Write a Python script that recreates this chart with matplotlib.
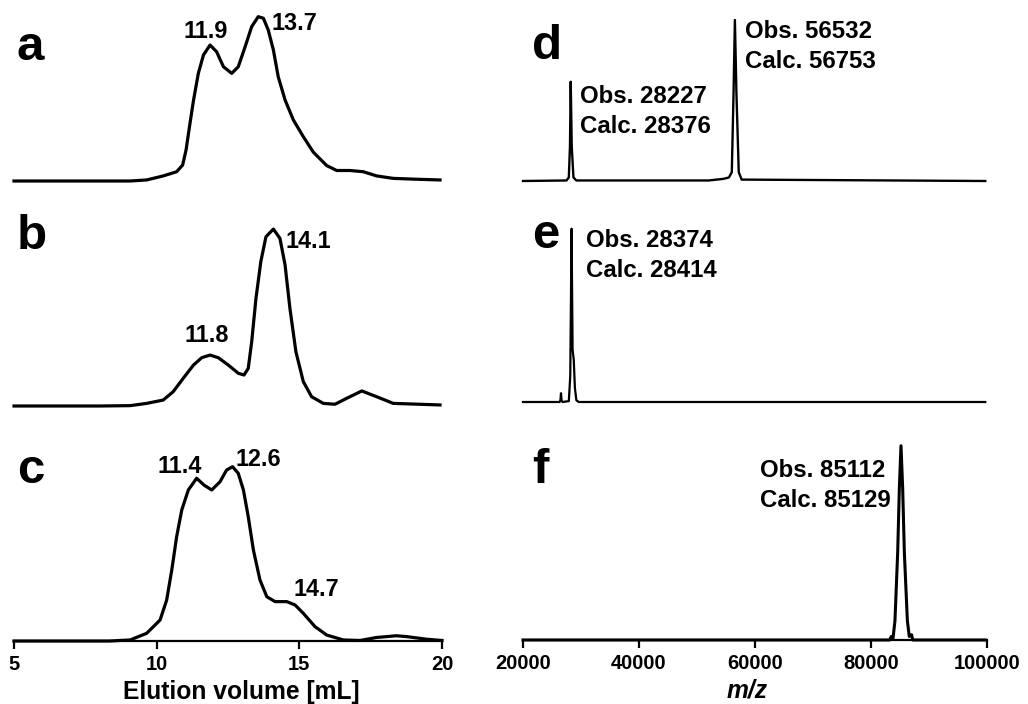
import matplotlib
matplotlib.use("Agg")
import matplotlib.pyplot as plt

plt.rcParams['font.family'] = ['Liberation Sans', 'DejaVu Sans']
plt.rcParams['font.weight'] = 'bold'

# SEC traces (elution volume in mL, relative absorbance)
a_vol = [5, 9.07, 9.65, 10.23, 10.70, 10.91, 11.03, 11.15, 11.29, 11.46, 11.64, 11.87,
         12.10, 12.34, 12.63, 12.86, 13.10, 13.33, 13.56, 13.74, 13.91, 14.09, 14.26,
         14.50, 14.79, 15.14, 15.49, 15.96, 16.31, 16.78, 17.24, 17.71, 18.29, 19.11, 19.93]
a_abs = [0, 0, 0.006, 0.029, 0.053, 0.091, 0.177, 0.31, 0.46, 0.615, 0.72, 0.777,
         0.739, 0.653, 0.615, 0.653, 0.767, 0.882, 0.939, 0.93, 0.863, 0.749, 0.596,
         0.463, 0.349, 0.253, 0.165, 0.088, 0.06, 0.06, 0.053, 0.029, 0.015, 0.01, 0.006]

b_vol = [5, 8.0, 9.07, 9.65, 10.23, 10.58, 10.93, 11.29, 11.58, 11.87, 12.16, 12.51,
         12.86, 13.06, 13.21, 13.33, 13.48, 13.65, 13.83, 14.09, 14.32, 14.50, 14.67,
         14.88, 15.14, 15.43, 15.84, 16.25, 16.66, 17.19, 17.71, 18.29, 19.93]
b_abs = [0, 0, 0.002, 0.015, 0.034, 0.082, 0.158, 0.234, 0.276, 0.291, 0.276, 0.234,
         0.187, 0.177, 0.215, 0.367, 0.615, 0.825, 0.967, 1.011, 0.958, 0.806, 0.558,
         0.31, 0.139, 0.053, 0.015, 0.01, 0.044, 0.086, 0.053, 0.015, 0.006]

c_vol = [5, 8.36, 9.07, 9.65, 10.12, 10.35, 10.53, 10.70, 10.88, 11.11, 11.40, 11.66,
         11.93, 12.22, 12.45, 12.66, 12.86, 13.04, 13.21, 13.39, 13.62, 13.86, 14.15,
         14.56, 14.85, 15.14, 15.55, 15.96, 16.54, 17.13, 17.7, 18.4, 18.77, 19.47, 20]
c_abs = [0, 0, 0.006, 0.044, 0.12, 0.234, 0.406, 0.596, 0.749, 0.863, 0.93, 0.891,
         0.863, 0.91, 0.977, 0.996, 0.958, 0.863, 0.71, 0.52, 0.349, 0.253, 0.225,
         0.225, 0.206, 0.158, 0.082, 0.034, 0.006, 0.003, 0.02, 0.03, 0.025, 0.01, 0.003]

# MS spectra (m/z, relative intensity)
d_mz = [20000, 27500, 27900, 28100, 28227, 28400, 28700, 29200, 52000, 54500, 55500,
        56000, 56300, 56532, 56800, 57200, 57700, 99700]
d_int = [0, 0.003, 0.02, 0.2, 0.567, 0.2, 0.02, 0.003, 0.003, 0.012, 0.02,
         0.05, 0.5, 0.92, 0.5, 0.05, 0.008, 0]

e_mz = [20000, 26300, 26450, 26550, 26650, 26800, 27900, 28150, 28374, 28550, 28750,
        28950, 29200, 29600, 99700]
e_int = [0, 0, 0.01, 0.05, 0.01, 0, 0.005, 0.15, 0.99, 0.3, 0.24, 0.08, 0.01, 0, 0]

f_mz = [20000, 83200, 83500, 83800, 84130, 84600, 84890, 85170, 85460, 85750, 86270,
        86600, 87000, 87200, 99700]
f_int = [0, 0, 0.02, 0.01, 0.11, 0.5, 0.87, 1.11, 0.87, 0.5, 0.11, 0.02, 0.03, 0, 0]

vol_ticks = [5, 10, 15, 20]
mz_ticks = [20000, 40000, 60000, 80000, 100000]

W, H = 1028, 704
fig = plt.figure(figsize=(W / 100, H / 100), dpi=100)


def panel(left, width, base, xlim):
    ax = fig.add_axes([left / W, (H - base) / H, width / W, 175 / H])
    ax.set_xlim(*xlim)
    ax.set_ylim(0, 1)
    for s in ax.spines.values():
        s.set_visible(False)
    ax.set_yticks([])
    ax.set_xticks([])
    ax.patch.set_visible(False)
    return ax


ax_a = panel(14, 428, 181, (5, 20))
ax_b = panel(14, 428, 406, (5, 20))
ax_c = panel(14, 428, 641, (5, 20))
ax_d = panel(523, 464, 181, (20000, 100000))
ax_e = panel(523, 464, 402, (20000, 100000))
ax_f = panel(523, 464, 640, (20000, 100000))

for ax, x, y in [(ax_a, a_vol, a_abs), (ax_b, b_vol, b_abs), (ax_c, c_vol, c_abs)]:
    ax.plot(x, y, color='black', lw=2.3, clip_on=False, solid_joinstyle='round')
for ax, x, y, w in [(ax_d, d_mz, d_int, 1.7), (ax_e, e_mz, e_int, 1.6), (ax_f, f_mz, f_int, 2.2)]:
    ax.plot(x, y, color='black', lw=w, clip_on=False)

for ax, ticks, lab, style, lx in [(ax_c, vol_ticks, 'Elution volume [mL]', 'normal', 0.532),
                                  (ax_f, mz_ticks, 'm/z', 'italic', 0.482)]:
    ax.spines['bottom'].set_visible(True)
    ax.spines['bottom'].set_linewidth(1.6)
    ax.set_xticks(ticks)
    ax.set_xticklabels([str(t) for t in ticks], fontsize=14.5, fontweight='bold')
    ax.tick_params(axis='x', direction='out', length=6, width=1.6, pad=4)
    ax.set_xlabel(lab, fontsize=17.7, fontweight='bold', fontstyle=style)
    ax.xaxis.set_label_coords(lx, -0.22)

pk = dict(fontsize=16.8, fontweight='bold', va='baseline')
ax_a.text(11.73, 0.817, '11.9', ha='center', **pk)
ax_a.text(14.04, 0.863, '13.7', ha='left', **pk)
ax_b.text(11.75, 0.367, '11.8', ha='center', **pk)
ax_b.text(14.53, 0.905, '14.1', ha='left', **pk)
ax_c.text(10.80, 0.958, '11.4', ha='center', **pk)
ax_c.text(12.75, 1.0, '12.6', ha='left', **pk)
ax_c.text(14.78, 0.257, '14.7', ha='left', **pk)

ms = dict(fontsize=17.3, fontweight='bold', va='baseline', ha='left')
ax_d.text(58270, 0.819, 'Obs. 56532', **ms)
ax_d.text(58270, 0.647, 'Calc. 56753', **ms)
ax_d.text(29830, 0.446, 'Obs. 28227', **ms)
ax_d.text(29830, 0.276, 'Calc. 28376', **ms)
ax_e.text(30860, 0.887, 'Obs. 28374', **ms)
ax_e.text(30860, 0.716, 'Calc. 28414', **ms)
ax_f.text(60860, 0.931, 'Obs. 85112', **ms)
ax_f.text(60860, 0.76, 'Calc. 85129', **ms)

for lt, px, py in [('a', 17, 60), ('b', 17, 249), ('c', 17, 483),
                   ('d', 532, 59), ('e', 532, 248), ('f', 532, 483)]:
    fig.text(px / W, 1 - py / H, lt, fontsize=35.5, fontweight='bold',
             ha='left', va='baseline')

fig.savefig('out.png', dpi=100)
